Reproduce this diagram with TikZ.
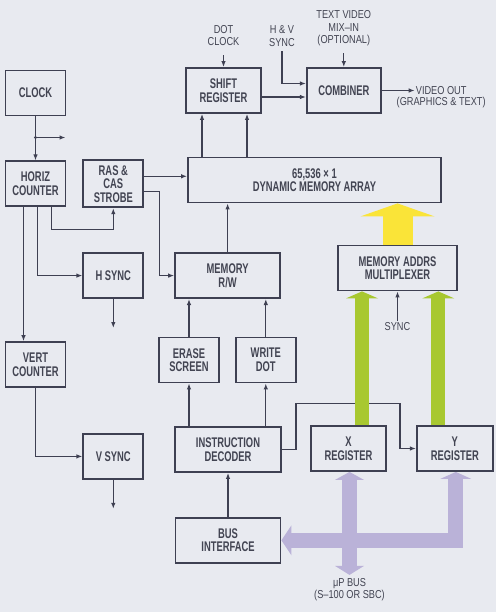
\documentclass[tikz,border=0pt]{standalone}
\usepackage{fontspec}
\newfontfamily\diagfont{Liberation Sans}[FakeStretch=0.67]
\newfontfamily\notefont{Liberation Sans}[FakeStretch=0.8]
\usetikzlibrary{positioning, arrows.meta, calc, backgrounds}

\definecolor{paper}{RGB}{232,234,240}
\definecolor{ink}{RGB}{62,64,82}
\definecolor{inktext}{RGB}{66,68,82}
\definecolor{addryellow}{RGB}{250,228,56}
\definecolor{addrgreen}{RGB}{168,200,48}
\definecolor{buspurple}{RGB}{186,178,216}

\begin{document}
\begin{tikzpicture}[
    x=1pt, y=-1pt,
    block/.style={
        rectangle, draw=ink, line width=1.8pt,
        minimum width=60pt, minimum height=45pt,
        align=center, inner sep=1pt, text=inktext,
        font=\diagfont\bfseries\fontsize{14}{13.5}\selectfont
    },
    midblock/.style={block, minimum width=75pt},
    wideblock/.style={block, minimum width=105pt},
    note/.style={
        align=center, inner sep=1pt, text=inktext,
        font=\notefont\fontsize{11.5}{12.5}\selectfont
    },
    wire/.style={-{Latex[length=6pt,width=4.5pt]}, line width=1.2pt, draw=ink},
    yellowbus/.style={draw=addryellow, line width=30pt,
        -{Triangle[length=13pt,width=74pt,line width=0pt]}},
    greenbus/.style={draw=addrgreen, line width=14pt,
        -{Triangle[length=7pt,width=32pt,line width=0pt]}},
    purplebus/.style={draw=buspurple, line width=15pt, line join=miter}
]
\useasboundingbox (0,0) rectangle (496,612);

% ============ Timing side ============
\node[block] (clock) at (35.5,93) {CLOCK};
\node[block, below=44pt of clock] (horiz) {HORIZ\\COUNTER};
\node[block, right=16pt of horiz, minimum height=47pt] (ras) {RAS \&\\CAS\\STROBE};
\node[block, below=44pt of ras] (hsync) {H SYNC};
\node[block, below=134pt of horiz] (vert) {VERT\\COUNTER};
\node[block, below=134pt of hsync] (vsync) {V SYNC};

% ============ Memory and video ============
\node[midblock] (shift) at (223.5,90.5) {SHIFT\\REGISTER};
\node[midblock, right=44pt of shift, minimum width=74pt] (combiner) {COMBINER};
\node[block, minimum width=253pt] (dma) at (314.5,180) {65,536 × 1\\DYNAMIC MEMORY ARRAY};
\node[wideblock, right=30pt of hsync] (mrw) {MEMORY\\R/W};
\node[block, minimum width=119pt] (mux) at (397.5,268) {MEMORY ADDRS\\MULTIPLEXER};

% ============ Processor side ============
\node[block] (erase) at (189,360) {ERASE\\SCREEN};
\node[block, right=15pt of erase] (write) {WRITE\\DOT};
\node[wideblock, minimum width=106pt] (decoder) at (228,449.5) {INSTRUCTION\\DECODER};
\node[wideblock, below=44pt of decoder] (bus) {BUS\\INTERFACE};
\node[midblock] (xreg) at (348.5,448.5) {X\\REGISTER};
\node[midblock, right=29pt of xreg, minimum width=76pt] (yreg) {Y\\REGISTER};

% ============ Free labels ============
\node[note, above=20pt of shift] (dotclk) {DOT\\CLOCK};
\node[note] (hvsync) at (282,36) {H \& V\\SYNC};
\node[note, above=20pt of combiner] (mixin) {TEXT VIDEO\\MIX–IN\\(OPTIONAL)};
\node[note, anchor=west] (vidout) at ([xshift=33pt]combiner.east) {VIDEO OUT};
\node[note, below=0pt of vidout] (vidsub) {(GRAPHICS \& TEXT)};
\node[note, below=30pt of mux] (syncl) {SYNC};
\coordinate[below=103pt of xreg, xshift=1pt] (bustip);
\node[note, below=2pt of bustip] (busl) {μP BUS\\(S–100 OR SBC)};

% ============ Timing flow ============
\draw[wire] (clock) -- (horiz);
\coordinate (clkbr) at ($(clock.south)!0.48!(horiz.north)$);
\coordinate[right=30pt of clkbr] (clkout);
\draw[wire] (clkbr) -- (clkout);
\fill[ink] (clkbr) circle (1.6pt);
\draw[wire] ($(horiz.south)+(16,0)$) -- ++(0,22) -| (ras.south);
\draw[wire] ($(horiz.south)+(2,0)$) |- (hsync.west);
\draw[wire] ($(horiz.south)+(-12,0)$) coordinate (hv) -- (hv |- vert.north);
\draw[wire] (vert.south) |- (vsync.west);
\coordinate[below=29pt of hsync] (hsyncout);
\draw[wire] (hsync) -- (hsyncout);
\coordinate[below=29pt of vsync] (vsyncout);
\draw[wire] (vsync) -- (vsyncout);

% ============ Memory flow ============
\draw[wire] ($(ras.east)+(0,-7.5)$) coordinate (rc) -- (rc -| dma.west);
\draw[wire] ($(ras.east)+(0,8)$) -- ++(15,0) |- (mrw.west);
\draw[wire] (mrw.north) -- (mrw.north |- dma.south);
\draw[wire] (erase.north) -- (erase.north |- mrw.south);
\draw[wire] (write.north) -- (write.north |- mrw.south);
\draw[wire] (erase.south |- decoder.north) -- (erase.south);
\draw[wire] (write.south |- decoder.north) -- (write.south);
\draw[wire] (bus.north) -- (bus.north |- decoder.south);
\draw[wire] (syncl) -- (mux);

% ============ Video flow ============
\coordinate (sr1) at ($(shift.south)+(-21.5,0)$);
\coordinate (sr2) at ($(shift.south)+(23.5,0)$);
\draw[wire] (sr1 |- dma.north) -- (sr1);
\draw[wire] (sr2 |- dma.north) -- (sr2);
\draw[wire, shorten <=8pt] (dotclk) -- (shift);
\draw[wire] ($(shift.east)+(0,6.5)$) coordinate (sc) -- (sc -| combiner.west);
\draw[wire, shorten <=4pt] (hvsync.south) |- ($(combiner.west)+(0,-7)$);
\draw[wire, shorten <=6pt] (mixin) -- (combiner);
\draw[wire] (combiner.east) -- (vidout.west);

% ============ Wide buses, behind the blocks ============
\begin{scope}[on background layer]
    \fill[paper] (0,0) rectangle (496,612);
    \draw[wire] (decoder.east) -- ++(14,0) -- ++(0,-46) -| ($(yreg.west)+(-16,0)$) -- (yreg.west);
    \draw[yellowbus] (mux.north) -- (mux.north |- dma.south);
    \coordinate (xg) at ([xshift=13.5pt]xreg.north);
    \coordinate (yg) at ([xshift=-16.5pt]yreg.north);
    \draw[greenbus] (xg) -- (xg |- mux.south);
    \draw[greenbus] (yg) -- (yg |- mux.south);
    \draw[purplebus, {Triangle[length=8pt,width=29pt,line width=0pt]}-{Triangle[length=9pt,width=29pt,line width=0pt]}]
        ([xshift=1pt]xreg.south) -- (bustip);
    \draw[purplebus, {Triangle[length=10pt,width=30pt,line width=0pt]}-{Triangle[length=7pt,width=31pt,line width=0pt]}]
        (bus.east) -| ([xshift=1pt]yreg.south);
\end{scope}

\end{tikzpicture}
\end{document}
